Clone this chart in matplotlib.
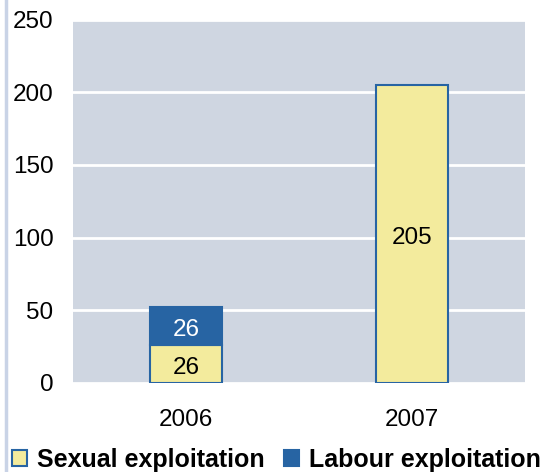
import numpy as np
import matplotlib.pyplot as plt
from matplotlib.patches import Patch
from matplotlib.lines import Line2D

plt.rcParams['font.family'] = ['Liberation Sans', 'DejaVu Sans']

# datos
years = ["2006", "2007"]
sexual = [26, 205]
labour = [26, 0]
yticks = [0, 50, 100, 150, 200, 250]

amarillo = "#F3EB9D"
azul = "#2764A3"
fondo = "#CFD6E1"

fig = plt.figure(figsize=(5.6, 4.72), dpi=100)
ax = fig.add_axes([0.1304, 0.1886, 0.8071, 0.77])
ax.set_facecolor(fondo)

x = np.arange(len(years))
w = 0.315
ax.bar(x, sexual, w, color=amarillo, edgecolor=azul, linewidth=1.5, zorder=3)
lab_x = [i for i in x if labour[i] > 0]
lab_v = [labour[i] for i in lab_x]
lab_b = [sexual[i] for i in lab_x]
ax.bar(lab_x, lab_v, w, bottom=lab_b, color=azul, edgecolor=azul, linewidth=1.5, zorder=3)

# etiquetas dentro de las barras (un poco mas abajo que el centro)
for i, v in zip(x, sexual):
    ax.annotate(str(v), (i, v / 2), xytext=(0, -3), textcoords="offset points",
                ha="center", va="center", fontsize=17.5, color="black", zorder=4)
for i, v, b in zip(lab_x, lab_v, lab_b):
    ax.annotate(str(v), (i, b + v / 2), xytext=(0, -3), textcoords="offset points",
                ha="center", va="center", fontsize=17.5, color="white", zorder=4)

ax.set_xlim(-0.5, 1.5)
ax.set_ylim(0, 250)
ax.set_yticks(yticks)
ax.set_xticks(x)
ax.set_xticklabels(years)
ax.tick_params(axis="both", length=0, labelsize=17.5)
ax.tick_params(axis="y", pad=14)
ax.tick_params(axis="x", pad=19)
ax.yaxis.grid(True, color="white", linewidth=2, zorder=1)
ax.set_axisbelow(True)
for s in ax.spines.values():
    s.set_visible(False)

# linea izquierda
fig.add_artist(Line2D([6 / 560, 6 / 560], [0, 1], color="#C9D3E6", linewidth=2.5))

handles = [Patch(facecolor=amarillo, edgecolor=azul, linewidth=1.5),
           Patch(facecolor=azul, edgecolor=azul, linewidth=1.5)]
fig.legend(handles, ["Sexual exploitation", "Labour exploitation"], ncol=2,
           loc="center left", bbox_to_anchor=(0.021, 0.025), frameon=False,
           prop={"weight": "bold", "size": 18}, handlelength=0.6, handleheight=0.6,
           handletextpad=0.4, columnspacing=0.8, borderaxespad=0, borderpad=0)

plt.savefig("out.png", dpi=100)
